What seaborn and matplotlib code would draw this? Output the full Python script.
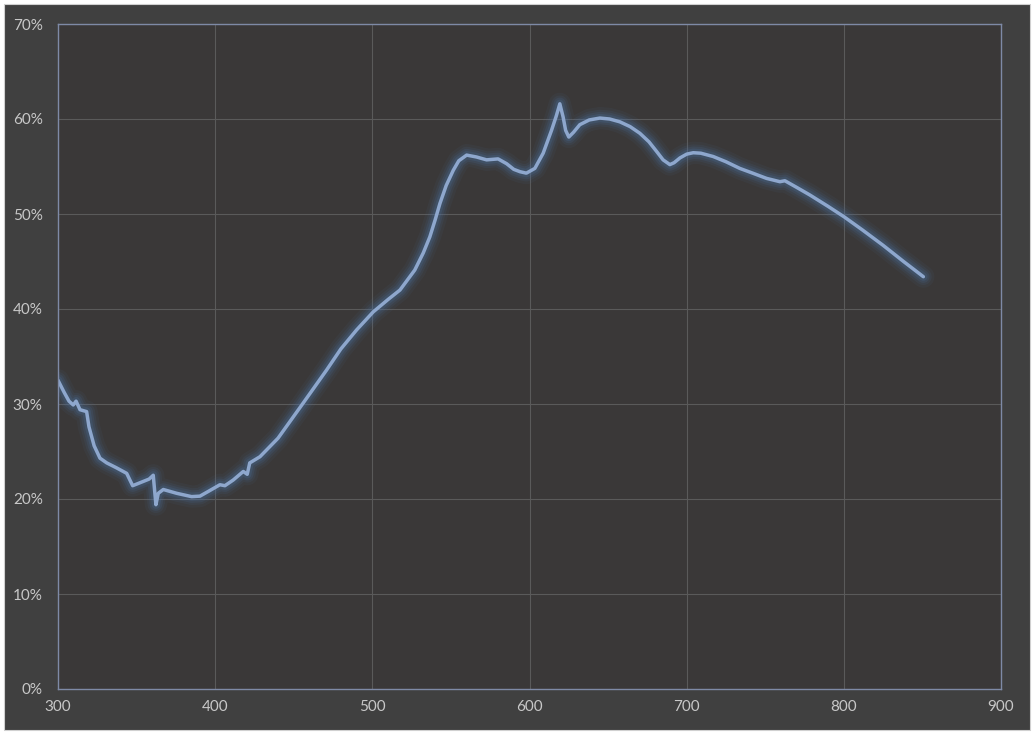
import matplotlib

matplotlib.use("Agg")

import matplotlib.pyplot as plt
import pandas as pd
import seaborn as sns
from matplotlib.patches import Rectangle
from matplotlib.ticker import FuncFormatter, MultipleLocator


# wavelength (nm) and reflectance (%)
wavelength = [
    300, 304, 307, 309.7, 311.5, 314, 318.2, 319.7, 323, 326.7, 331, 337,
    343.7, 347.5, 352, 358, 360.6, 362.3, 363.8, 367, 375.5, 385, 390.3,
    396.7, 403, 406.2, 411.5, 417.9, 420.4, 422, 428.5, 440, 456, 471, 480,
    490, 500.6, 510, 517.6, 527, 532.4, 536.6, 540, 543, 547, 551.5, 555,
    560, 566.3, 572.7, 580, 585.4, 590, 594, 598, 603.4, 608.7, 614, 617,
    619.3, 621.4, 623, 625, 628, 632, 638, 644.8, 651, 657.5, 664, 670.2,
    676, 680.8, 685, 689.3, 692, 695.7, 700, 704.2, 709, 716.9, 725, 733.8,
    742, 750.8, 759.3, 762.5, 770, 778.4, 790, 800.2, 812, 825, 838, 850.6,
]
reflectance = [
    32.5, 31.2, 30.3, 29.9, 30.3, 29.4, 29.2, 27.6, 25.6, 24.3, 23.8, 23.3,
    22.7, 21.4, 21.7, 22.1, 22.5, 19.4, 20.6, 21.0, 20.6, 20.25, 20.3,
    20.9, 21.5, 21.4, 22.0, 22.9, 22.6, 23.8, 24.45, 26.4, 30.1, 33.6, 35.8,
    37.8, 39.7, 41.0, 42.0, 44.1, 45.9, 47.6, 49.4, 51.1, 53.0, 54.6, 55.6,
    56.2, 56.0, 55.7, 55.8, 55.3, 54.7, 54.45, 54.3, 54.8, 56.4, 58.8, 60.3,
    61.6, 60.2, 58.8, 58.1, 58.6, 59.4, 59.9, 60.1, 60.0, 59.7, 59.2, 58.5,
    57.6, 56.6, 55.7, 55.2, 55.4, 55.9, 56.3, 56.45, 56.4, 56.05, 55.5, 54.8,
    54.3, 53.75, 53.4, 53.5, 52.8, 52.0, 50.8, 49.7, 48.3, 46.7, 45.0, 43.4,
]

df = pd.DataFrame({"wavelength": wavelength, "reflectance": reflectance})

sns.set_theme(style="dark")
plt.rcParams["font.family"] = ["Lato", "DejaVu Sans"]

fig = plt.figure(figsize=(10.34, 7.34), dpi=100, facecolor="white")
fig.patches.append(
    Rectangle((4 / 1034, 4 / 734), 1026 / 1034, 726 / 734,
              transform=fig.transFigure, facecolor="#404040",
              edgecolor="#d0d0d0", linewidth=0.8, zorder=-10)
)
ax = fig.add_axes([58 / 1034, 45 / 734, 943 / 1034, 665 / 734])
ax.set_facecolor("#3a3838")

# soft glow under the line
for width, alpha in [(16, 0.07), (12, 0.10), (9, 0.14), (6, 0.20)]:
    sns.lineplot(data=df, x="wavelength", y="reflectance", ax=ax,
                 color="#4d76a8", linewidth=width, alpha=alpha,
                 solid_capstyle="round", solid_joinstyle="round",
                 sort=False, estimator=None, legend=False)
sns.lineplot(data=df, x="wavelength", y="reflectance", ax=ax,
             color="#8ea7cd", linewidth=2.5,
             solid_capstyle="round", solid_joinstyle="round",
             sort=False, estimator=None, legend=False)

ax.set_xlim(300, 900)
ax.set_ylim(0, 70)
ax.xaxis.set_major_locator(MultipleLocator(100))
ax.yaxis.set_major_locator(MultipleLocator(10))
ax.yaxis.set_major_formatter(FuncFormatter(lambda v, _: f"{v:.0f}%"))
ax.grid(True, color="#5a5a5a", linewidth=0.8)
ax.set_axisbelow(True)
ax.set_xlabel("")
ax.set_ylabel("")
ax.tick_params(axis="both", colors="#c8c8c8", labelsize=11, length=0)
ax.tick_params(axis="y", pad=11)
ax.tick_params(axis="x", pad=8)
for side in ["left", "right", "top", "bottom"]:
    ax.spines[side].set_visible(True)
    ax.spines[side].set_color("#7e8aa6")
    ax.spines[side].set_linewidth(1.0)

fig.savefig("out.png", dpi=100, facecolor=fig.get_facecolor())
